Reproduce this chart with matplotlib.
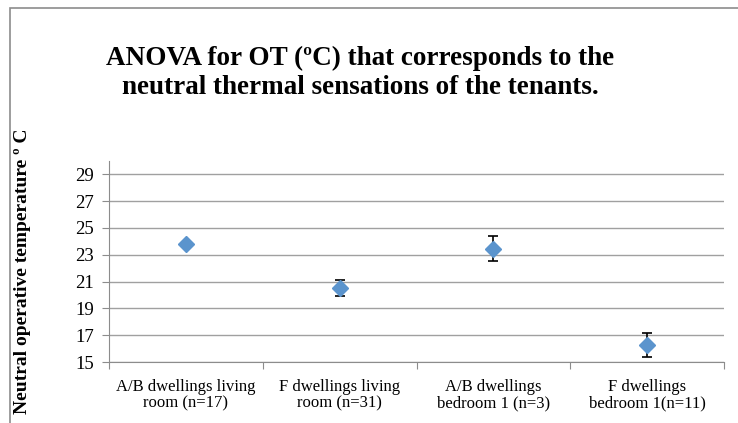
import matplotlib
matplotlib.use("Agg")
import matplotlib.pyplot as plt
from matplotlib.patches import Rectangle

# group labels and neutral operative temperature (mean and error)
groups = ["A/B dwellings living\nroom (n=17)",
          "F dwellings living\nroom (n=31)",
          "A/B dwellings\nbedroom 1 (n=3)",
          "F dwellings\nbedroom 1(n=11)"]
means = [23.8, 20.5, 23.45, 16.25]
errors = [0.1, 0.6, 0.95, 0.9]
yticks = [15, 17, 19, 21, 23, 25, 27, 29]

plt.rcParams['font.family'] = ['Liberation Serif', 'DejaVu Serif']

fig = plt.figure(figsize=(7.38, 4.23), dpi=100)
W, H = 738, 423

# outer chart frame
fig.patches.append(Rectangle((10 / W, -0.5), 2.0, 0.5 + 1 - 8 / H,
                             transform=fig.transFigure, fill=False,
                             edgecolor='#8c8c8c', lw=1.2))

ax = fig.add_axes([109 / W, 1 - 362 / H, (724 - 109) / W, (362 - 161) / H])

x = list(range(len(groups)))
ax.errorbar(x, means, yerr=errors, fmt='none', ecolor='black',
            elinewidth=1.2, capsize=3.6, capthick=1.2, zorder=3)
ax.plot(x, means, linestyle='none', marker='D', markersize=8.5,
        color='#5b94cd', zorder=4)

ax.set_xlim(-0.5, len(groups) - 0.5)
ax.set_ylim(15, 30)
ax.set_yticks(yticks)
ax.set_yticklabels([str(v) for v in yticks], fontsize=13.5)
ax.yaxis.grid(True, color='#a0a0a0', lw=1)
ax.set_axisbelow(True)

ax.set_xticks([i - 0.5 for i in range(len(groups) + 1)])
ax.set_xticklabels([])
ax.set_xticks(x, minor=True)
ax.set_xticklabels(groups, minor=True, fontsize=12, linespacing=1.05)
ax.tick_params(axis='x', which='minor', length=0, pad=12)
ax.tick_params(axis='x', which='major', length=5, color='#8c8c8c')
ax.tick_params(axis='y', length=5, color='#8c8c8c', pad=6)

for side in ['top', 'right']:
    ax.spines[side].set_visible(False)
for side in ['left', 'bottom']:
    ax.spines[side].set_color('#8c8c8c')

fig.text(360 / W, 1 - 73 / H,
         "ANOVA for OT (\u00baC) that corresponds to the\nneutral thermal sensations of the tenants.",
         ha='center', va='center', fontsize=19.5, fontweight='bold',
         linespacing=1.22)

fig.text(23 / W, 1 - 271 / H, "Neutral operative temperature \u00ba C",
         rotation=90, ha='center', va='center', fontsize=14,
         fontweight='bold')

fig.savefig("out.png", dpi=100)
